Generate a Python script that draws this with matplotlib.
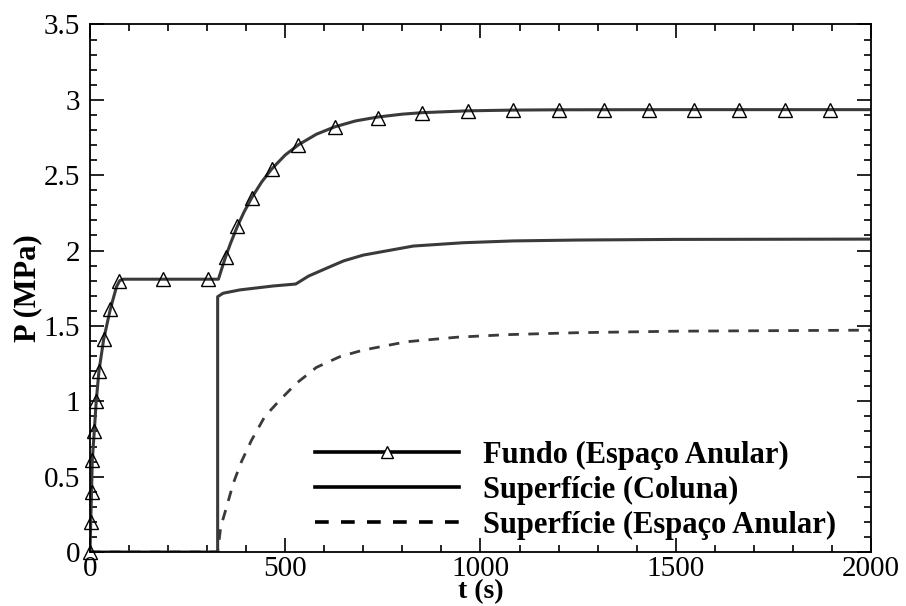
import numpy as np
import matplotlib
matplotlib.use('Agg')
import matplotlib.pyplot as plt
from matplotlib.lines import Line2D
from matplotlib.ticker import MultipleLocator

plt.rcParams['font.family'] = ['Liberation Serif', 'DejaVu Serif']

# Fundo (Espaço Anular) - linha
t_fundo = [0, 1, 2, 4, 6, 11, 16, 23, 35, 52, 68, 76, 85, 329, 340, 348, 360, 377,
           395, 415, 440, 465, 500, 534, 580, 627, 680, 737, 800, 851, 967, 1083,
           1200, 1500, 2000]
p_fundo = [0, 0.1, 0.2, 0.4, 0.61, 0.8, 1.0, 1.2, 1.41, 1.61, 1.76, 1.80, 1.81, 1.81,
           1.90, 1.963, 2.048, 2.158, 2.258, 2.354, 2.456, 2.54, 2.634, 2.702, 2.772,
           2.821, 2.86, 2.886, 2.905, 2.915, 2.927, 2.932, 2.934, 2.935, 2.935]

# Fundo (Espaço Anular) - marcadores
t_mark = [0, 2, 4, 6, 11, 16, 23, 35, 52, 74, 187, 303, 348, 377, 415, 465, 534,
          627, 737, 851, 967, 1083, 1200, 1316, 1432, 1548, 1663, 1780, 1896]
p_mark = [0, 0.2, 0.4, 0.61, 0.8, 1.0, 1.2, 1.41, 1.61, 1.80, 1.81, 1.81, 1.96,
          2.16, 2.35, 2.54, 2.70, 2.82, 2.88, 2.915, 2.926, 2.932, 2.934, 2.934,
          2.934, 2.934, 2.934, 2.934, 2.934]

# Superfície (Coluna)
t_col = [0, 327, 327, 341, 384, 469, 527, 560, 615, 650, 700, 828, 956, 1084,
         1255, 1500, 2000]
p_col = [0, 0, 1.694, 1.717, 1.739, 1.765, 1.778, 1.831, 1.893, 1.932, 1.97, 2.03,
         2.052, 2.064, 2.07, 2.074, 2.076]

# Superfície (Espaço Anular)
t_an = [0, 327, 335, 350, 367, 388, 414, 448, 487, 529, 580, 640, 700, 811, 939,
        1067, 1246, 1500, 2000]
p_an = [0, 0, 0.168, 0.30, 0.456, 0.60, 0.743, 0.90, 1.01, 1.12, 1.225, 1.296,
        1.34, 1.395, 1.425, 1.442, 1.455, 1.465, 1.472]

LABELS = ['Fundo (Espaço Anular)', 'Superfície (Coluna)', 'Superfície (Espaço Anular)']
GRAY = '#3a3a3a'

fig = plt.figure(figsize=(9.06, 6.06), dpi=100)
ax = fig.add_axes([0.0993, 0.0891, 0.862, 0.8705])

ax.plot(t_an, p_an, color=GRAY, lw=2.0, dashes=(3.8, 3.4))
ax.plot(t_col, p_col, color=GRAY, lw=2.2)
ax.plot(t_fundo, p_fundo, color=GRAY, lw=2.2)
ax.plot(t_mark, p_mark, ls='none', marker='^', ms=10, mfc='none', mec='black',
        mew=1.0, clip_on=False, zorder=5)

ax.set_xlim(0, 2000)
ax.set_ylim(0, 3.5)
ax.xaxis.set_major_locator(MultipleLocator(500))
ax.xaxis.set_minor_locator(MultipleLocator(100))
ax.set_yticks(np.arange(0, 3.51, 0.5))
ax.set_yticklabels(['0', '0.5', '1', '1.5', '2', '2.5', '3', '3.5'])
ax.yaxis.set_minor_locator(MultipleLocator(0.1))
ax.tick_params(which='both', direction='in', top=True, right=True, width=1.2,
               labelsize=21, colors='black')
ax.tick_params(which='major', length=10)
ax.tick_params(which='minor', length=5)
ax.tick_params(axis='x', which='major', pad=3)
ax.tick_params(axis='y', which='major', pad=7)
for s in ax.spines.values():
    s.set_linewidth(1.3)

ax.set_xlabel('t (s)', fontsize=20, fontweight='bold', labelpad=-2)
ax.set_ylabel('P (MPa)', fontsize=22, fontweight='bold', labelpad=1)

handles = [
    Line2D([], [], color='black', lw=2.6, marker='^', ms=9, mfc='white', mec='black', mew=1.0),
    Line2D([], [], color='black', lw=2.6),
    Line2D([], [], color='black', lw=2.6, dashes=(3.8, 3.4)),
]
leg = ax.legend(handles, LABELS, loc='lower left', bbox_to_anchor=(315 / 906, 1 - 540 / 606),
                bbox_transform=fig.transFigure, frameon=False, borderpad=0,
                borderaxespad=0, numpoints=1, handlelength=4.7, handletextpad=0.8,
                labelspacing=0.2, prop={'size': 22, 'weight': 'bold'})

fig.savefig('out.png', dpi=100)
